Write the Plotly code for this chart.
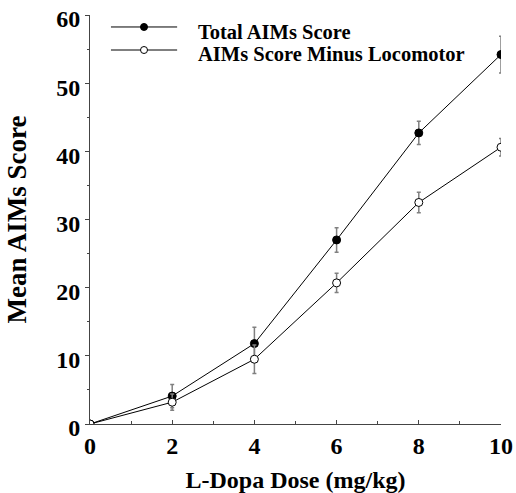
import plotly.graph_objects as go

dose = [0, 2, 4, 6, 8, 10]
total = [0, 4.1, 11.8, 27.0, 42.7, 54.2]
total_err = [0, 1.7, 2.4, 1.8, 1.7, 2.7]
minus_loco = [0, 3.2, 9.5, 20.7, 32.5, 40.6]
minus_err = [0, 1.2, 2.1, 1.4, 1.5, 1.3]
series_names = ["Total AIMs Score", "AIMs Score Minus Locomotor"]
x_ticks = [0, 2, 4, 6, 8, 10]
y_ticks = [0, 10, 20, 30, 40, 50, 60]

font = "Liberation Serif"
err_color = "#808080"

fig = go.Figure()
fig.add_trace(go.Scatter(
    x=dose, y=total, mode="lines+markers", name=series_names[0],
    line=dict(color="black", width=1),
    marker=dict(symbol="circle", size=8, color="black", line=dict(color="black", width=1)),
    error_y=dict(type="data", array=total_err, visible=True, color=err_color, thickness=1.5, width=2),
))
fig.add_trace(go.Scatter(
    x=dose, y=minus_loco, mode="lines+markers", name=series_names[1],
    line=dict(color="black", width=1),
    marker=dict(symbol="circle", size=8, color="white", line=dict(color="black", width=1)),
    error_y=dict(type="data", array=minus_err, visible=True, color=err_color, thickness=1.5, width=2),
))

# custom legend (paper coordinates)
shapes = []
annotations = []
rows = [(0.9707, 0.958, "black"), (0.9144, 0.905, "white")]
for (ly, ty, fill), name in zip(rows, series_names):
    shapes.append(dict(type="line", xref="paper", yref="paper", x0=0.051, x1=0.212, y0=ly, y1=ly,
                       line=dict(color="black", width=1)))
    shapes.append(dict(type="circle", xref="paper", yref="paper", xsizemode="pixel", ysizemode="pixel",
                       xanchor=0.1314, yanchor=ly, x0=-3.5, x1=3.5, y0=-3.5, y1=3.5,
                       fillcolor=fill, line=dict(color="black", width=1)))
    annotations.append(dict(xref="paper", yref="paper", x=0.258, y=ty, xanchor="left", yanchor="middle",
                            text="<b>%s</b>" % name, showarrow=False,
                            font=dict(size=20.5, family=font, color="black")))

fig.update_layout(
    width=516, height=493,
    margin=dict(l=90, r=15, t=15, b=69),
    plot_bgcolor="white", paper_bgcolor="white",
    font=dict(family=font, color="black"),
    showlegend=False,
    shapes=shapes, annotations=annotations,
    xaxis=dict(
        range=[0, 10], tickvals=x_ticks,
        ticktext=["<b>%d</b>" % v for v in x_ticks],
        tickfont=dict(size=24, family=font), automargin=False,
        ticks="inside", ticklen=4, tickcolor="#444", showline=True, linecolor="#444", linewidth=1,
        minor=dict(dtick=1, ticks="inside", ticklen=3, tickcolor="#444"),
        showgrid=False, zeroline=False,
        title=dict(text="<b>L-Dopa Dose (mg/kg)</b>", font=dict(size=24, family=font), standoff=20),
    ),
    yaxis=dict(
        range=[0, 60], tickvals=y_ticks,
        ticktext=["<b>%d</b>" % v for v in y_ticks],
        tickfont=dict(size=24, family=font), automargin=False, ticklabelshift=4,
        ticks="outside", ticklen=4, tickcolor="#444", showline=True, linecolor="#444", linewidth=1,
        minor=dict(dtick=5, ticks="outside", ticklen=2, tickcolor="#444"),
        showgrid=False, zeroline=False,
        title=dict(text="<b>Mean AIMs Score</b>", font=dict(size=27, family=font), standoff=21),
    ),
)

fig.write_html("out.html")
